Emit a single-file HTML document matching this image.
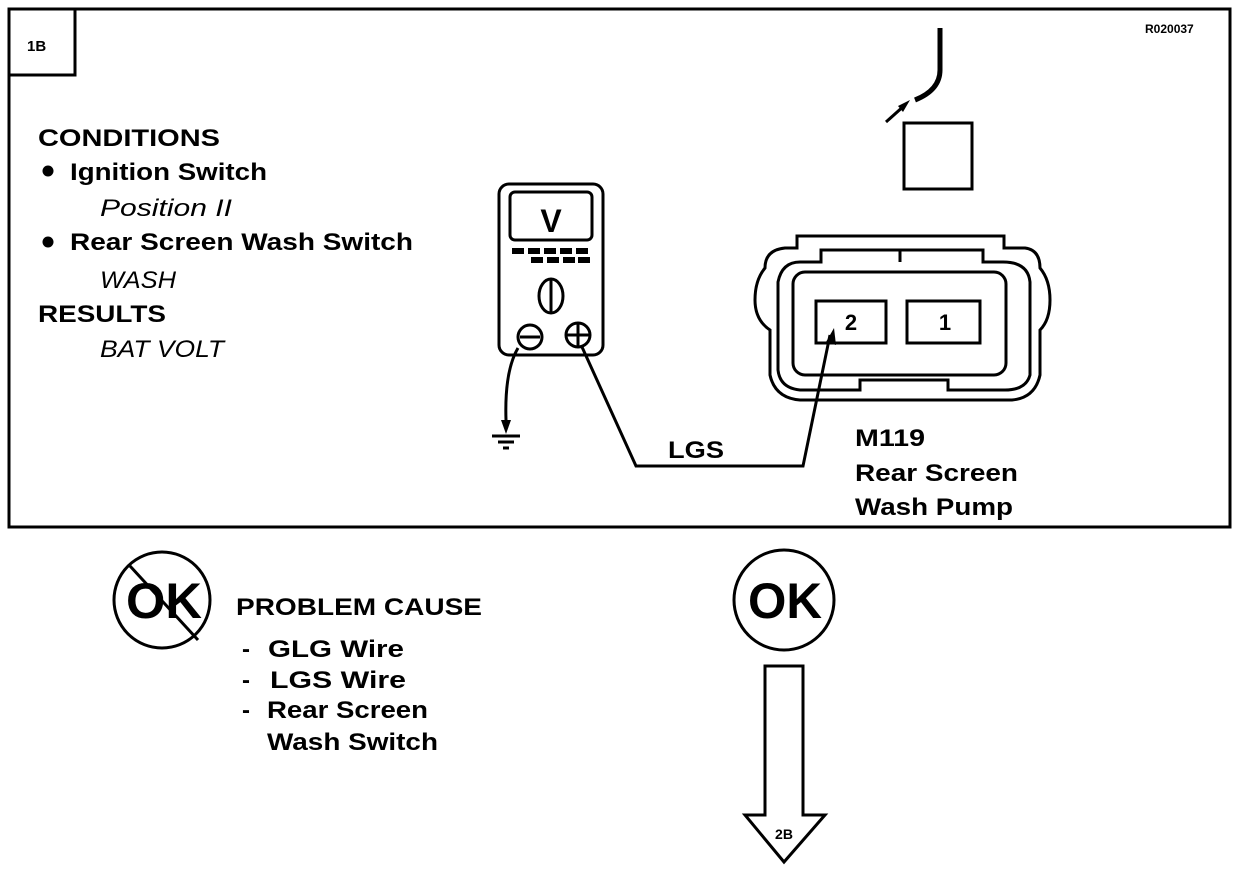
<!DOCTYPE html>
<html><head><meta charset="utf-8"><style>
html,body{margin:0;padding:0;background:#fff;}
svg{display:block;}
text{font-family:"Liberation Sans",Arial,sans-serif;font-weight:bold;fill:#000;}
.i{font-style:italic;font-weight:normal;}
</style></head><body>
<svg width="1248" height="872" viewBox="0 0 1248 872" xmlns="http://www.w3.org/2000/svg">
<rect x="9" y="9" width="1221" height="518" fill="none" stroke="#000" stroke-width="3"/>
<rect x="9" y="9" width="66" height="66" fill="none" stroke="#000" stroke-width="3"/>
<text x="27" y="51" font-size="15">1B</text>
<text x="1145" y="33" font-size="12">R020037</text>

<g font-size="24">
<text x="38" y="146" textLength="182" lengthAdjust="spacingAndGlyphs">CONDITIONS</text>
<circle cx="48" cy="171" r="5.5" fill="#000"/>
<text x="70" y="180" textLength="197" lengthAdjust="spacingAndGlyphs">Ignition Switch</text>
<text x="100" y="216" class="i" textLength="132" lengthAdjust="spacingAndGlyphs">Position II</text>
<circle cx="48" cy="242" r="5.5" fill="#000"/>
<text x="70" y="250" textLength="343" lengthAdjust="spacingAndGlyphs">Rear Screen Wash Switch</text>
<text x="100" y="288" class="i" textLength="76" lengthAdjust="spacingAndGlyphs">WASH</text>
<text x="38" y="322" textLength="128" lengthAdjust="spacingAndGlyphs">RESULTS</text>
<text x="100" y="357" class="i" textLength="124" lengthAdjust="spacingAndGlyphs">BAT VOLT</text>
</g>

<!-- meter -->
<g fill="none" stroke="#000" stroke-width="3">
<rect x="499" y="184" width="104" height="171" rx="10"/>
<rect x="510" y="192" width="82" height="48" rx="5"/>
<ellipse cx="551" cy="296" rx="12" ry="17"/>
<line x1="551" y1="280" x2="551" y2="312"/>
<circle cx="530" cy="337" r="12"/>
<line x1="520" y1="337" x2="540" y2="337"/>
<circle cx="578" cy="335" r="12"/>
<line x1="567" y1="335" x2="589" y2="335"/>
<line x1="578" y1="324" x2="578" y2="346"/>
<path d="M518 348 C508 365 505 390 506 420"/>
<path d="M582 347 L636 466 L803 466 L830 335"/>
<line x1="492" y1="436" x2="520" y2="436"/>
<line x1="498" y1="442" x2="514" y2="442"/>
<line x1="503" y1="448" x2="509" y2="448"/>
</g>
<text x="551" y="232" font-size="32" text-anchor="middle">V</text>
<g fill="#000">
<rect x="512" y="248" width="12" height="6"/><rect x="528" y="248" width="12" height="6"/><rect x="544" y="248" width="12" height="6"/><rect x="560" y="248" width="12" height="6"/><rect x="576" y="248" width="12" height="6"/>
<rect x="531" y="257" width="12" height="6"/><rect x="547" y="257" width="12" height="6"/><rect x="563" y="257" width="12" height="6"/><rect x="578" y="257" width="12" height="6"/>
<path d="M501 420 L511 420 L506 434 Z"/>
<path d="M826 342 L834 328 L836 345 Z"/>
</g>
<text x="668" y="458" font-size="24" textLength="56" lengthAdjust="spacingAndGlyphs">LGS</text>

<!-- connector -->
<g fill="none" stroke="#000" stroke-width="3">
<path d="M797 248 L797 236 L1004 236 L1004 248 L1025 248 Q1040 250 1040 268 Q1050 280 1050 300 Q1050 320 1040 330 L1040 375 Q1035 398 1012 400 L800 400 Q775 398 770 375 L770 330 Q755 320 755 300 Q755 280 765 268 Q765 250 785 248 Z"/>
<path d="M800 262 L821 262 L821 250 L983 250 L983 262 L1003 262 Q1028 262 1030 282 L1030 375 Q1026 390 1005 390 L948 390 L948 380 L860 380 L860 390 L800 390 Q780 388 778 370 L778 282 Q782 262 800 262 Z"/>
<rect x="793" y="272" width="213" height="103" rx="12"/>
<line x1="900" y1="250" x2="900" y2="262"/>
<rect x="816" y="301" width="70" height="42"/>
<rect x="907" y="301" width="73" height="42"/>
<rect x="904" y="123" width="68" height="66"/>
<path d="M940 28 L940 70 Q940 90 915 100" stroke-width="5"/>
<line x1="886" y1="122" x2="905" y2="105"/>
</g>
<path d="M910 100 L898 106 L903 112 Z" fill="#000"/>
<text x="851" y="330" font-size="22" text-anchor="middle">2</text>
<text x="945" y="330" font-size="22" text-anchor="middle">1</text>
<g font-size="24">
<text x="855" y="446" textLength="70" lengthAdjust="spacingAndGlyphs">M119</text>
<text x="855" y="481" textLength="163" lengthAdjust="spacingAndGlyphs">Rear Screen</text>
<text x="855" y="515" textLength="158" lengthAdjust="spacingAndGlyphs">Wash Pump</text>
</g>

<!-- bottom -->
<circle cx="162" cy="600" r="48" fill="none" stroke="#000" stroke-width="3"/>
<text x="164" y="618" font-size="50" text-anchor="middle" textLength="76" lengthAdjust="spacingAndGlyphs">OK</text>
<line x1="130" y1="566" x2="198" y2="640" stroke="#000" stroke-width="3"/>
<g font-size="24">
<text x="236" y="615" textLength="246" lengthAdjust="spacingAndGlyphs">PROBLEM CAUSE</text>
<text x="242" y="657">-</text><text x="268" y="657" textLength="136" lengthAdjust="spacingAndGlyphs">GLG  Wire</text>
<text x="242" y="688">-</text><text x="270" y="688" textLength="136" lengthAdjust="spacingAndGlyphs">LGS  Wire</text>
<text x="242" y="718">-</text><text x="267" y="718" textLength="161" lengthAdjust="spacingAndGlyphs">Rear Screen</text>
<text x="267" y="750" textLength="171" lengthAdjust="spacingAndGlyphs">Wash Switch</text>
</g>
<circle cx="784" cy="600" r="50" fill="none" stroke="#000" stroke-width="3"/>
<text x="785" y="618" font-size="50" text-anchor="middle" textLength="74" lengthAdjust="spacingAndGlyphs">OK</text>
<path d="M765 666 L803 666 L803 815 L825 815 L784 862 L745 815 L765 815 Z" fill="none" stroke="#000" stroke-width="3"/>
<text x="784" y="839" font-size="14" text-anchor="middle">2B</text>
</svg>
</body></html>
